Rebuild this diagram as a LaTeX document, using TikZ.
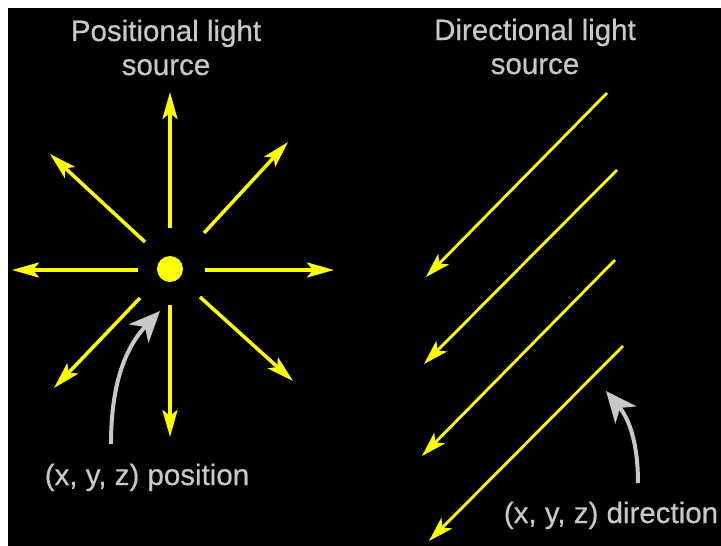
\documentclass[tikz,border=0pt]{standalone}
\usepackage{fontspec}
\setmainfont{Liberation Sans}
\newfontfamily\lblfont{Liberation Sans}[FakeBold=0.5]
\usetikzlibrary{arrows.meta}
\definecolor{labelgray}{RGB}{200,200,200}
\definecolor{rayyellow}{RGB}{255,255,0}
\tikzset{
  lbl/.style={text=labelgray, inner sep=0pt, anchor=base, font=\lblfont\fontsize{29.5}{34}\selectfont},
  ray/.style={draw=rayyellow, line width=3.5pt, -{Stealth[length=27pt,width=15pt,inset=6pt]}},
  dray/.style={draw=rayyellow, line width=2.8pt, -{Stealth[length=25pt,width=15pt,inset=6pt]}},
  pointer/.style={draw=labelgray, line width=4pt, -{Stealth[length=31pt,width=27pt,inset=9pt]}},
  dot/.style={circle, fill=rayyellow, inner sep=0pt, minimum size=26pt}
}
\begin{document}
\begin{tikzpicture}[x=1pt,y=-1pt]
  \useasboundingbox (0,0) rectangle (721,546);
  \fill[white] (0,0) rectangle (721,546);
  \fill[black] (8,8) rectangle (721,546);

  % titles
  \node[lbl] (tl1) at (166,41) {Positional light};
  \node[lbl] (tl2) at (166,75) {source};
  \node[lbl] (tr1) at (535,40) {Directional light};
  \node[lbl] (tr2) at (535,74) {source};

  % positional source
  \node[dot] (src) at (170,269) {};
  \coordinate (uS) at (170,228);  \coordinate (uT) at (170,92);
  \coordinate (ulS) at (145,242); \coordinate (ulT) at (50,154);
  \coordinate (urS) at (204,233); \coordinate (urT) at (288,142);
  \coordinate (lS) at (138,270);  \coordinate (lT) at (12,270);
  \coordinate (rS) at (205,270);  \coordinate (rT) at (334,270);
  \coordinate (dlS) at (140,298); \coordinate (dlT) at (54,388);
  \coordinate (dS) at (170,305);  \coordinate (dT) at (170,437);
  \coordinate (drS) at (200,297); \coordinate (drT) at (293,381);
  \draw[ray] (uS) -- (uT);
  \draw[ray] (ulS) -- (ulT);
  \draw[ray] (urS) -- (urT);
  \draw[ray] (lS) -- (lT);
  \draw[ray] (rS) -- (rT);
  \draw[ray] (dlS) -- (dlT);
  \draw[ray] (dS) -- (dT);
  \draw[ray] (drS) -- (drT);

  % position label and pointer
  \node[lbl] (pos) at (147,485) {(x, y, z) position};
  \coordinate (pS) at (111,444);
  \coordinate (pT) at (160,311);
  \draw[pointer] (pS) .. controls (111,385) and (125,348) .. (pT);

  % directional rays
  \coordinate (a1S) at (607,93);  \coordinate (a1T) at (426,277);
  \coordinate (a2S) at (617,170); \coordinate (a2T) at (424,364);
  \coordinate (a3S) at (615,260); \coordinate (a3T) at (422,456);
  \coordinate (a4S) at (623,346); \coordinate (a4T) at (429,541);
  \draw[dray] (a1S) -- (a1T);
  \draw[dray] (a2S) -- (a2T);
  \draw[dray] (a3S) -- (a3T);
  \draw[dray] (a4S) -- (a4T);

  % direction label and pointer
  \node[lbl] (dir) at (611,523) {(x, y, z) direction};
  \coordinate (qS) at (638,483);
  \coordinate (qT) at (606,391);
  \draw[pointer] (qS) .. controls (638,445) and (630,420) .. (qT);
\end{tikzpicture}
\end{document}
